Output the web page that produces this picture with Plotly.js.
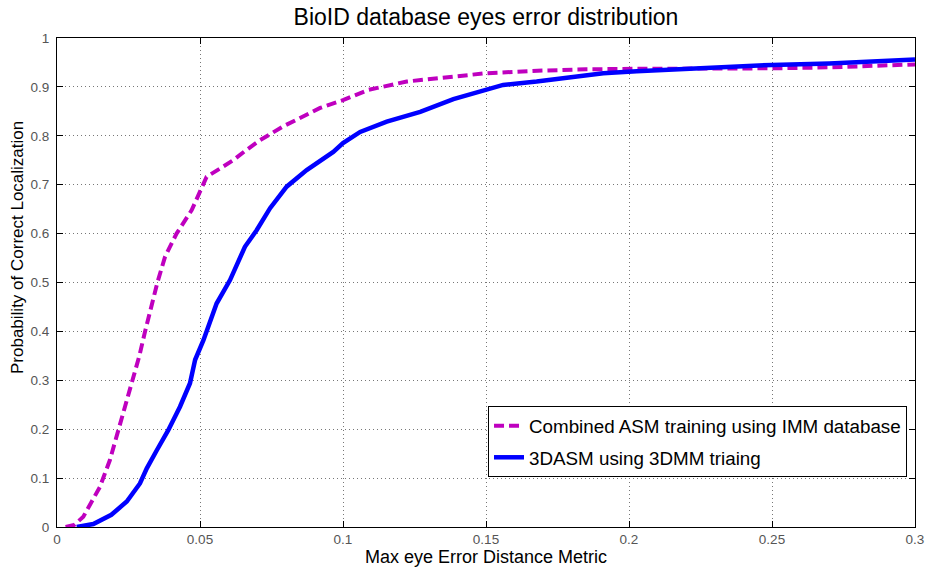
<!DOCTYPE html>
<html>
<head>
<meta charset="utf-8">
<script src="https://cdn.plot.ly/plotly-3.0.1.min.js"></script>
<style>html,body{margin:0;padding:0;background:#fff;}#chart{width:925px;height:568px;}</style>
</head>
<body>
<div id="chart"></div>
<script>
const seriesNames = ["Combined ASM training using IMM database", "3DASM using 3DMM triaing"];

const asmX = [0.003,0.006,0.0092,0.012,0.015,0.0185,0.0214,0.0244,0.0266,0.0288,0.0308,0.033,0.0351,0.0378,0.0418,0.0471,0.0505,0.0523,0.057,0.0616,0.066,0.071,0.079,0.086,0.092,0.1,0.109,0.1223,0.1386,0.150,0.168,0.185,0.2027,0.22,0.25,0.27,0.29,0.3];
const asmY = [0,0.004,0.021,0.05,0.082,0.137,0.198,0.26,0.3,0.35,0.4,0.45,0.5,0.553,0.6,0.648,0.69,0.716,0.733,0.75,0.77,0.791,0.819,0.839,0.857,0.873,0.894,0.911,0.922,0.928,0.933,0.936,0.937,0.937,0.938,0.940,0.944,0.946];

const dasmX = [0.0069,0.0127,0.019,0.0244,0.029,0.0314,0.0349,0.0389,0.043,0.0465,0.0483,0.0512,0.0558,0.0605,0.0657,0.0698,0.0745,0.0803,0.0873,0.0966,0.1,0.106,0.1153,0.127,0.1386,0.150,0.156,0.1677,0.179,0.191,0.2027,0.22,0.25,0.27,0.29,0.3];
const dasmY = [0,0.006,0.025,0.052,0.089,0.12,0.157,0.198,0.246,0.294,0.342,0.382,0.457,0.505,0.573,0.607,0.652,0.696,0.730,0.767,0.785,0.808,0.829,0.849,0.875,0.895,0.904,0.911,0.920,0.928,0.932,0.937,0.945,0.948,0.952,0.956];

const titleText = "BioID database eyes error distribution";
const xTitle = "Max eye Error Distance Metric";
const yTitle = "Probability of Correct Localization";

const FONT = "Liberation Sans, Arial, sans-serif";

const traces = [
  {x: asmX, y: asmY, name: seriesNames[0], type: "scatter", mode: "lines",
   legendgroup: "a",
   line: {color: "#bf00bf", width: 4, dash: "10px,5px"}},
  {x: dasmX, y: dasmY, name: seriesNames[1], type: "scatter", mode: "lines",
   legendgroup: "b",
   line: {color: "#0000ff", width: 4.5}}
];

const axisCommon = {
  showline: true, linecolor: "#000", linewidth: 1, mirror: "ticks",
  ticks: "inside", ticklen: 6, tickcolor: "#000",
  showgrid: true, gridcolor: "#777", griddash: "1px,3px", gridwidth: 1,
  zeroline: false,
  tickfont: {family: FONT, size: 13.5, color: "#555"}
};

const layout = {
  width: 925, height: 568,
  margin: {l: 57, r: 10, t: 38, b: 41},
  paper_bgcolor: "#fff", plot_bgcolor: "#fff",
  font: {family: FONT, color: "#000"},
  title: {text: titleText, font: {family: FONT, size: 23, color: "#000"},
          x: 0.5, xref: "paper", xanchor: "center", y: 1 - 17/568, yanchor: "middle"},
  xaxis: Object.assign({}, axisCommon, {range: [0, 0.3], dtick: 0.05, tick0: 0}),
  yaxis: Object.assign({}, axisCommon, {range: [0, 1], dtick: 0.1, tick0: 0, ticklabelstandoff: 4}),
  annotations: [
    {text: xTitle, xref: "paper", yref: "paper", x: 0.5, y: -(557 - 527) / 489,
     xanchor: "center", yanchor: "middle", showarrow: false,
     font: {family: FONT, size: 18, color: "#000"}},
    {text: yTitle, xref: "paper", yref: "paper", x: -(57 - 18) / 858, y: (527 - 248) / 489,
     xanchor: "center", yanchor: "middle", textangle: -90, showarrow: false,
     font: {family: FONT, size: 17, color: "#000"}}
  ],
  showlegend: true,
  legend: {
    x: 0.9907, xanchor: "right", y: 0.102, yanchor: "bottom",
    bgcolor: "#fff", bordercolor: "#000", borderwidth: 1,
    font: {family: FONT, size: 18.8, color: "#000"},
    tracegroupgap: 4, itemwidth: 30
  }
};

Plotly.newPlot("chart", traces, layout, {displayModeBar: false, staticPlot: true});
</script>
</body>
</html>
